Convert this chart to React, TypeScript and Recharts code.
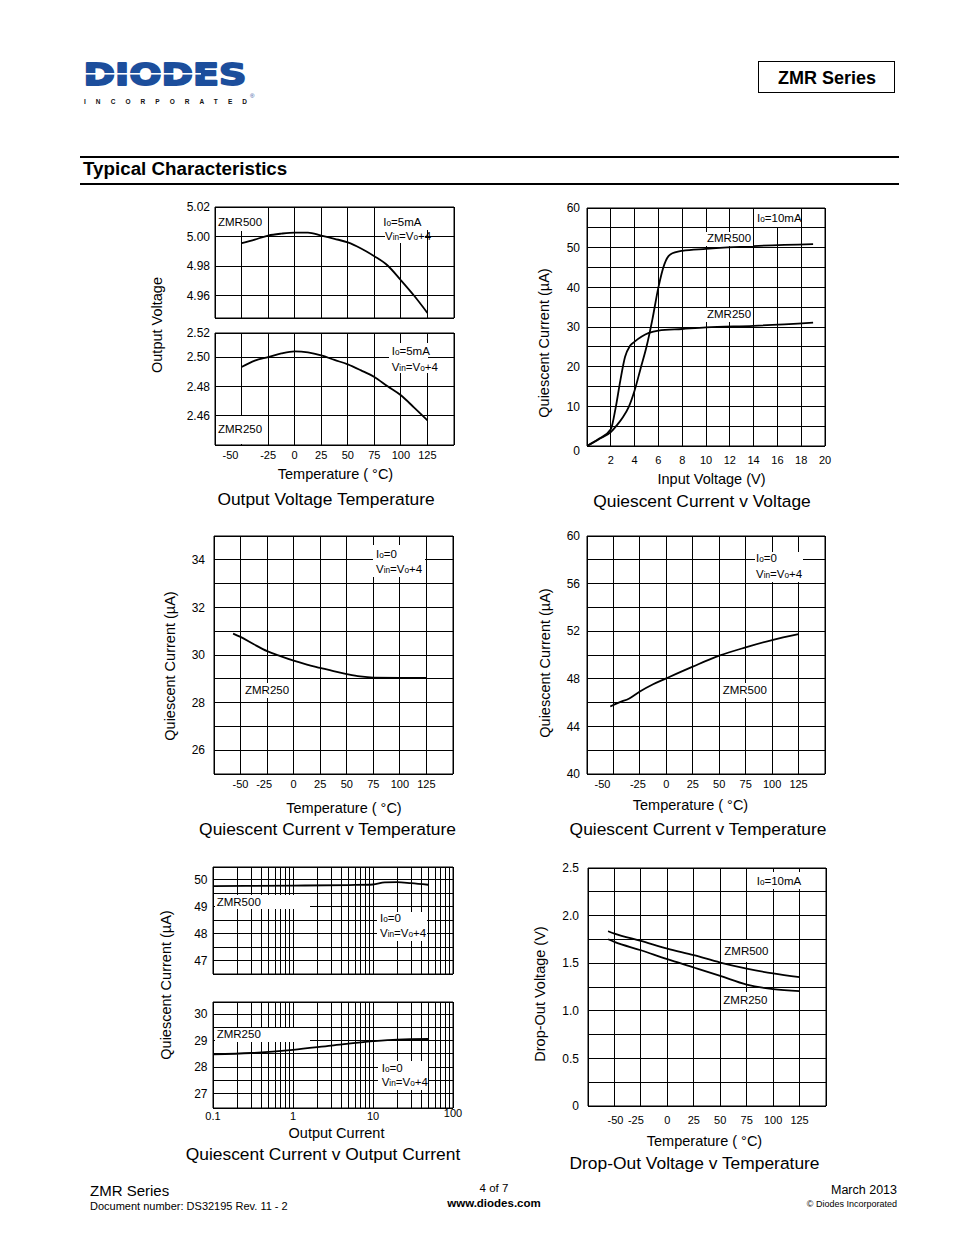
import React from "react";
import { CartesianGrid, Line, LineChart, ReferenceArea, XAxis, YAxis } from "recharts";

const FONT = "'Liberation Sans', Arial, Helvetica, sans-serif";

// shared temperature axis
const tempGrid = [-75, -50, -25, 0, 25, 50, 75, 100, 125, 150];
const tempTicks = [-50, -25, 0, 25, 50, 75, 100, 125];

// Output Voltage Temperature
const ovTemp = [-50, -37.5, -25, -12.5, 0, 12.5, 25, 37.5, 50, 62.5, 75, 87.5, 100, 112.5, 125];
const ovZmr500 = [4.9955, 4.998, 5.0007, 5.002, 5.0027, 5.0027, 5.0007, 4.9985, 4.9961, 4.992, 4.9868, 4.9805, 4.9705, 4.96, 4.9484];
const ovZmr250 = [2.4932, 2.4975, 2.5, 2.5025, 2.5039, 2.5032, 2.5011, 2.498, 2.495, 2.4909, 2.4864, 2.48, 2.4739, 2.4655, 2.4568];
const ovTopGrid = [4.945, 4.96, 4.98, 5.0, 5.02];
const ovTopTicks = [4.96, 4.98, 5.0, 5.02];
const ovTopText = ["4.96", "4.98", "5.00", "5.02"];
const ovBotGrid = [2.44, 2.46, 2.48, 2.5, 2.5164];
const ovBotTicks = [2.46, 2.48, 2.5, 2.5164];
const ovBotText = ["2.46", "2.48", "2.50", "2.52"];

// Quiescent Current v Voltage
const vinGrid = [0, 2, 4, 6, 8, 10, 12, 14, 16, 18, 20];
const vinTicks = [2, 4, 6, 8, 10, 12, 14, 16, 18, 20];
const iqvGrid = [0, 5, 10, 15, 20, 25, 30, 35, 40, 45, 50, 55, 60];
const iqvTicks = [0, 10, 20, 30, 40, 50, 60];
const iqvText = ["0", "10", "20", "30", "40", "50", "60"];
const vin500 = [0, 1, 2, 2.5, 3, 3.5, 4, 4.5, 5, 5.5, 6, 6.5, 7, 8, 10, 14, 19];
const iq500v = [0, 1.7, 3.5, 5.2, 7.2, 9.8, 14, 19.5, 25, 32, 40, 45.8, 48.3, 49.2, 49.7, 50.4, 50.9];
const vin250 = [0, 1, 2, 2.4, 2.8, 3.2, 3.6, 4, 4.6, 5.2, 6, 8, 10, 14, 19];
const iq250v = [0, 1.8, 4.2, 9.5, 16.5, 22.5, 25.2, 26.3, 27.6, 28.5, 29.1, 29.5, 29.9, 30.3, 31.1];

// Quiescent Current v Temperature (ZMR250)
const qt250Grid = [25, 26, 27, 28, 29, 30, 31, 32, 33, 34, 35];
const qt250Ticks = [26, 28, 30, 32, 34];
const qt250Text = ["26", "28", "30", "32", "34"];
const qt250Temp = [-57, -50, -37.5, -25, -12.5, 0, 12.5, 25, 37.5, 50, 62.5, 75, 100, 125];
const qt250Iq = [30.9, 30.76, 30.45, 30.16, 29.95, 29.76, 29.6, 29.46, 29.32, 29.2, 29.1, 29.05, 29.04, 29.04];

// Quiescent Current v Temperature (ZMR500)
const qt500Grid = [40, 42, 44, 46, 48, 50, 52, 54, 56, 58, 60];
const qt500Ticks = [40, 44, 48, 52, 56, 60];
const qt500Text = ["40", "44", "48", "52", "56", "60"];
const qt500Temp = [-53, -45, -35, -25, -12.5, 0, 25, 50, 75, 100, 125];
const qt500Iq = [45.67, 46.0, 46.35, 46.93, 47.54, 48.04, 49.02, 49.94, 50.64, 51.26, 51.76];

// Quiescent Current v Output Current
const ioGrid = [0.1, 0.2, 0.3, 0.4, 0.5, 0.6, 0.7, 0.8, 0.9, 1, 2, 3, 4, 5, 6, 7, 8, 9, 10, 20, 30, 40, 50, 60, 70, 80, 90, 100];
const ioTicks = [0.1, 1, 10, 100];
const ioText = ["0.1", "1", "10", "100"];
const io500Grid = [46.5, 47, 47.5, 48, 48.5, 49, 49.5, 50, 50.47];
const io500Ticks = [47, 48, 49, 50];
const io500Text = ["47", "48", "49", "50"];
const io250Grid = [26.45, 27, 27.5, 28, 28.5, 29, 29.5, 30, 30.46];
const io250Ticks = [27, 28, 29, 30];
const io250Text = ["27", "28", "29", "30"];
const iout500 = [0.1, 1, 5, 10, 14, 20, 30, 49];
const iq500i = [49.76, 49.78, 49.8, 49.82, 49.9, 49.91, 49.87, 49.81];
const iout250 = [0.1, 0.3, 1, 3, 10, 20, 50];
const iq250i = [28.48, 28.53, 28.65, 28.81, 28.98, 29.04, 29.06];

// Drop-Out Voltage v Temperature
const doGrid = [0, 0.25, 0.5, 0.75, 1, 1.25, 1.5, 1.75, 2, 2.25, 2.5];
const doTicks = [0, 0.5, 1, 1.5, 2, 2.5];
const doText = ["0", "0.5", "1.0", "1.5", "2.0", "2.5"];
const doTemp = [-56, -50, -25, 0, 25, 50, 75, 100, 125];
const do500 = [1.836, 1.811, 1.734, 1.654, 1.584, 1.507, 1.444, 1.392, 1.353];
const do250 = [1.752, 1.724, 1.636, 1.542, 1.455, 1.367, 1.276, 1.227, 1.206];

type Curve = { x: number[]; y: number[] };
type PlotProps = {
  left: number; top: number; w: number; h: number;
  xDomain: [number, number]; xGrid: number[]; xTicks: number[]; xText?: string[];
  xGap?: number; xShift?: Record<string, number>; xRaise?: Record<string, number>;
  yDomain: [number, number]; yGrid: number[]; yTicks: number[]; yText: string[];
  yGap: number; yDrop?: Record<string, number>;
  log?: boolean; curves: Curve[];
};

const YW = 60, MT = 10, MR = 10, XH = 30;

function Plot(p: PlotProps) {
  const xTick = (t: any) => {
    const v = t.payload.value;
    const i = p.xTicks.indexOf(v);
    if (i < 0) return <g />;
    const label = p.xText ? p.xText[i] : String(v);
    return (
      <text x={t.x + (p.xShift?.[String(v)] ?? 0)} y={t.y + (p.xGap ?? 6) + (p.xRaise?.[String(v)] ?? 0)}
        dy="0.71em" textAnchor="middle" fontSize={11} fontFamily={FONT} fill="#000">{label}</text>
    );
  };
  const yTick = (t: any) => {
    const v = t.payload.value;
    const i = p.yTicks.indexOf(v);
    if (i < 0) return <g />;
    return (
      <text x={t.x - p.yGap} y={t.y + (p.yDrop?.[String(v)] ?? 0)} dy="0.355em" textAnchor="end"
        fontSize={12} fontFamily={FONT} fill="#000">{p.yText[i]}</text>
    );
  };
  return (
    <div style={{ position: "absolute", left: p.left - YW, top: p.top - MT }}>
      <LineChart width={YW + p.w + MR} height={MT + p.h + XH} margin={{ top: MT, right: MR, left: 0, bottom: 0 }}>
        <CartesianGrid stroke="#000" strokeWidth={1} shapeRendering="crispEdges" />
        <XAxis dataKey="x" type="number" scale={p.log ? "log" : "auto"} domain={p.xDomain} ticks={p.xGrid}
          allowDataOverflow interval={0} height={XH} axisLine={false} tickLine={false} tickSize={0} tickMargin={0} tick={xTick} />
        <YAxis type="number" domain={p.yDomain} ticks={p.yGrid} allowDataOverflow interval={0} width={YW}
          axisLine={false} tickLine={false} tickSize={0} tickMargin={0} tick={yTick} />
        <ReferenceArea x1={p.xDomain[0]} x2={p.xDomain[1]} y1={p.yDomain[0]} y2={p.yDomain[1]}
          fill="none" stroke="#000" strokeWidth={1} ifOverflow="visible" />
        {p.curves.map((c, k) => (
          <Line key={k} data={c.x.map((x, i) => ({ x, y: c.y[i] }))} dataKey="y" type="monotone"
            stroke="#000" strokeWidth={1.8} dot={false} activeDot={false} isAnimationActive={false} />
        ))}
      </LineChart>
    </div>
  );
}

function Box({ b }: { b: [number, number, number, number] }) {
  return <div style={{ position: "absolute", left: b[0], top: b[1], width: b[2] - b[0], height: b[3] - b[1], background: "#fff" }} />;
}

function Note({ x, y, children }: { x: number; y: number; children: React.ReactNode }) {
  return (
    <div style={{ position: "absolute", left: x, top: y, transform: "translateY(-50%)", fontSize: 11.5, lineHeight: 1, whiteSpace: "nowrap" }}>
      {children}
    </div>
  );
}

function CText({ x, y, size, children, rotate, bold }: { x: number; y: number; size: number; children: React.ReactNode; rotate?: boolean; bold?: boolean }) {
  return (
    <div style={{
      position: "absolute", left: x, top: y, transform: `translate(-50%,-50%)${rotate ? " rotate(-90deg)" : ""}`,
      fontSize: size, lineHeight: 1, whiteSpace: "nowrap", fontWeight: bold ? 700 : 400,
    }}>{children}</div>
  );
}

const sub = (s: string) => <span style={{ fontSize: "0.72em" }}>{s}</span>;
const Io = (v: string) => <>I{sub("o")}={v}</>;
const Vin = <>V{sub("in")}=V{sub("o")}+4</>;

const TITLE = 17.4;
const AXT = 14.5;

export default function App() {
  return (
    <div style={{ position: "absolute", left: 0, top: 0, width: 954, height: 1235, background: "#fff", fontFamily: FONT, color: "#000", overflow: "hidden" }}>
      {/* header */}
      <svg width={190} height={50} style={{ position: "absolute", left: 78, top: 58 }}>
        <text x={5.5} y={26.5} fontFamily="'DejaVu Sans', sans-serif" fontWeight="bold" fontSize={30} fill="#1c4e9c"
          stroke="#1c4e9c" strokeWidth={1.8} strokeLinejoin="round" textLength={163} lengthAdjust="spacingAndGlyphs">DIODES</text>
        <rect x={5} y={15} width={118} height={1.6} fill="#fff" />
        <text x={6} y={45.5} fontFamily={FONT} fontWeight="bold" fontSize={6.5} fill="#111" textLength={163} lengthAdjust="spacing">INCORPORATED</text>
        <text x={172} y={40} fontFamily={FONT} fontSize={6} fill="#1c4e9c">®</text>
      </svg>
      <div style={{ position: "absolute", left: 758, top: 61, width: 135, height: 30, border: "1.5px solid #000" }} />
      <CText x={827} y={78} size={18} bold>ZMR Series</CText>
      <div style={{ position: "absolute", left: 80, top: 156, width: 819, height: 2, background: "#000" }} />
      <div style={{ position: "absolute", left: 83, top: 169, transform: "translateY(-50%)", fontSize: 18.8, fontWeight: 700, lineHeight: 1 }}>Typical Characteristics</div>
      <div style={{ position: "absolute", left: 80, top: 182.5, width: 819, height: 2, background: "#000" }} />

      {/* Output Voltage Temperature */}
      <Plot left={215} top={207} w={239} h={111} xDomain={[-75, 150]} xGrid={tempGrid} xTicks={[]}
        yDomain={[4.945, 5.02]} yGrid={ovTopGrid} yTicks={ovTopTicks} yText={ovTopText} yGap={5}
        curves={[{ x: ovTemp, y: ovZmr500 }]} />
      <Plot left={215} top={333} w={239} h={112} xDomain={[-75, 150]} xGrid={tempGrid} xTicks={tempTicks} xGap={6} xShift={{ "-50": -11 }}
        yDomain={[2.44, 2.5164]} yGrid={ovBotGrid} yTicks={ovBotTicks} yText={ovBotText} yGap={5}
        curves={[{ x: ovTemp, y: ovZmr250 }]} />
      <Box b={[216, 208, 262, 231]} /><Box b={[381, 208, 432, 230]} /><Box b={[385, 230, 425, 243]} />
      <Box b={[389, 343, 428, 373]} /><Box b={[216, 416, 262, 444]} />
      <Note x={218} y={222.7}>ZMR500</Note>
      <Note x={383.3} y={222.7}>{Io("5mA")}</Note>
      <Note x={385} y={236.7}>{Vin}</Note>
      <Note x={391.7} y={351.7}>{Io("5mA")}</Note>
      <Note x={391.7} y={367.7}>{Vin}</Note>
      <Note x={218} y={430}>ZMR250</Note>
      <CText x={157} y={325} size={AXT} rotate>Output Voltage</CText>
      <CText x={335.5} y={474} size={AXT}>Temperature ( °C)</CText>
      <CText x={326} y={500} size={TITLE}>Output Voltage Temperature</CText>

      {/* Quiescent Current v Voltage */}
      <Plot left={587} top={208} w={238} h={238} xDomain={[0, 20]} xGrid={vinGrid} xTicks={vinTicks} xGap={10}
        yDomain={[0, 60]} yGrid={iqvGrid} yTicks={iqvTicks} yText={iqvText} yGap={7} yDrop={{ "0": 5 }}
        curves={[{ x: vin500, y: iq500v }, { x: vin250, y: iq250v }]} />
      <Box b={[754, 209, 800, 227]} /><Box b={[705, 232, 753, 246]} /><Box b={[705, 308, 753, 322]} />
      <Note x={757} y={218.5}>{Io("10mA")}</Note>
      <Note x={707} y={239}>ZMR500</Note>
      <Note x={707} y={315}>ZMR250</Note>
      <CText x={544} y={343} size={AXT} rotate>Quiescent Current (µA)</CText>
      <CText x={711.5} y={478.5} size={AXT}>Input Voltage (V)</CText>
      <CText x={702} y={502} size={TITLE}>Quiescent Current v Voltage</CText>

      {/* Quiescent Current v Temperature, ZMR250 */}
      <Plot left={214} top={536} w={239} h={238} xDomain={[-75, 150]} xGrid={tempGrid} xTicks={tempTicks} xGap={6.4} xShift={{ "-25": -3 }}
        yDomain={[25, 35]} yGrid={qt250Grid} yTicks={qt250Ticks} yText={qt250Text} yGap={9}
        curves={[{ x: qt250Temp, y: qt250Iq }]} />
      <Box b={[373, 545, 425, 577]} /><Box b={[243, 683, 290, 698]} />
      <Note x={376} y={555}>{Io("0")}</Note>
      <Note x={376} y={570}>{Vin}</Note>
      <Note x={245} y={690.7}>ZMR250</Note>
      <CText x={170} y={666} size={AXT} rotate>Quiescent Current (µA)</CText>
      <CText x={344} y={807.5} size={AXT}>Temperature ( °C)</CText>
      <CText x={327.5} y={829.5} size={TITLE}>Quiescent Current v Temperature</CText>

      {/* Quiescent Current v Temperature, ZMR500 */}
      <Plot left={587} top={536} w={238} h={238} xDomain={[-75, 150]} xGrid={tempGrid} xTicks={tempTicks} xGap={5.8} xShift={{ "-50": -11, "-25": -2 }}
        yDomain={[40, 60]} yGrid={qt500Grid} yTicks={qt500Ticks} yText={qt500Text} yGap={7}
        curves={[{ x: qt500Temp, y: qt500Iq }]} />
      <Box b={[755, 552, 803, 582]} /><Box b={[721, 683, 768, 698]} />
      <Note x={756} y={559.3}>{Io("0")}</Note>
      <Note x={756} y={575}>{Vin}</Note>
      <Note x={722.7} y={690.7}>ZMR500</Note>
      <CText x={545} y={663} size={AXT} rotate>Quiescent Current (µA)</CText>
      <CText x={690.5} y={805} size={AXT}>Temperature ( °C)</CText>
      <CText x={698} y={829.5} size={TITLE}>Quiescent Current v Temperature</CText>

      {/* Quiescent Current v Output Current */}
      <Plot left={213} top={867} w={240} h={107} log xDomain={[0.1, 100]} xGrid={ioGrid} xTicks={[]}
        yDomain={[46.5, 50.47]} yGrid={io500Grid} yTicks={io500Ticks} yText={io500Text} yGap={5.5}
        curves={[{ x: iout500, y: iq500i }]} />
      <Plot left={213} top={1002} w={240} h={106} log xDomain={[0.1, 100]} xGrid={ioGrid} xTicks={ioTicks} xText={ioText} xGap={4.5} xRaise={{ "100": -3 }}
        yDomain={[26.45, 30.46]} yGrid={io250Grid} yTicks={io250Ticks} yText={io250Text} yGap={5.5}
        curves={[{ x: iout250, y: iq250i }]} />
      <Box b={[215, 895, 310, 909]} /><Box b={[377, 912, 427, 941]} />
      <Box b={[215, 1028, 310, 1042]} /><Box b={[378, 1061, 428, 1090]} />
      <Note x={216.7} y={902.7}>ZMR500</Note>
      <Note x={380} y={919.3}>{Io("0")}</Note>
      <Note x={380} y={934}>{Vin}</Note>
      <Note x={216.7} y={1035}>ZMR250</Note>
      <Note x={381.7} y={1069.3}>{Io("0")}</Note>
      <Note x={381.7} y={1082.7}>{Vin}</Note>
      <CText x={166} y={985} size={AXT} rotate>Quiescent Current (µA)</CText>
      <CText x={336.5} y={1133} size={AXT}>Output Current</CText>
      <CText x={323} y={1155} size={TITLE}>Quiescent Current v Output Current</CText>

      {/* Drop-Out Voltage v Temperature */}
      <Plot left={588} top={868} w={238} h={238} xDomain={[-75, 150]} xGrid={tempGrid} xTicks={tempTicks} xGap={10} xShift={{ "-50": 1, "-25": -5 }}
        yDomain={[0, 2.5]} yGrid={doGrid} yTicks={doTicks} yText={doText} yGap={9}
        curves={[{ x: doTemp, y: do500 }, { x: doTemp, y: do250 }]} />
      <Box b={[753, 872, 802, 889]} /><Box b={[722, 940, 773, 962]} /><Box b={[722, 992, 773, 1009]} />
      <Note x={756.7} y={881.7}>{Io("10mA")}</Note>
      <Note x={724.3} y={951.7}>ZMR500</Note>
      <Note x={723.3} y={1000.7}>ZMR250</Note>
      <CText x={540} y={994} size={AXT} rotate>Drop-Out Voltage (V)</CText>
      <CText x={704.5} y={1140.5} size={AXT}>Temperature ( °C)</CText>
      <CText x={694.5} y={1164} size={TITLE}>Drop-Out Voltage v Temperature</CText>

      {/* footer */}
      <div style={{ position: "absolute", left: 90, top: 1190, transform: "translateY(-50%)", fontSize: 15, lineHeight: 1 }}>ZMR Series</div>
      <div style={{ position: "absolute", left: 90, top: 1206, transform: "translateY(-50%)", fontSize: 11, lineHeight: 1 }}>Document number: DS32195 Rev. 11 - 2</div>
      <CText x={494} y={1189} size={11.5}>4 of 7</CText>
      <CText x={494} y={1204} size={11.5} bold>www.diodes.com</CText>
      <div style={{ position: "absolute", right: 57, top: 1190, transform: "translateY(-50%)", fontSize: 12.5, lineHeight: 1 }}>March 2013</div>
      <div style={{ position: "absolute", right: 57, top: 1204, transform: "translateY(-50%)", fontSize: 9, lineHeight: 1 }}>© Diodes Incorporated</div>
    </div>
  );
}
